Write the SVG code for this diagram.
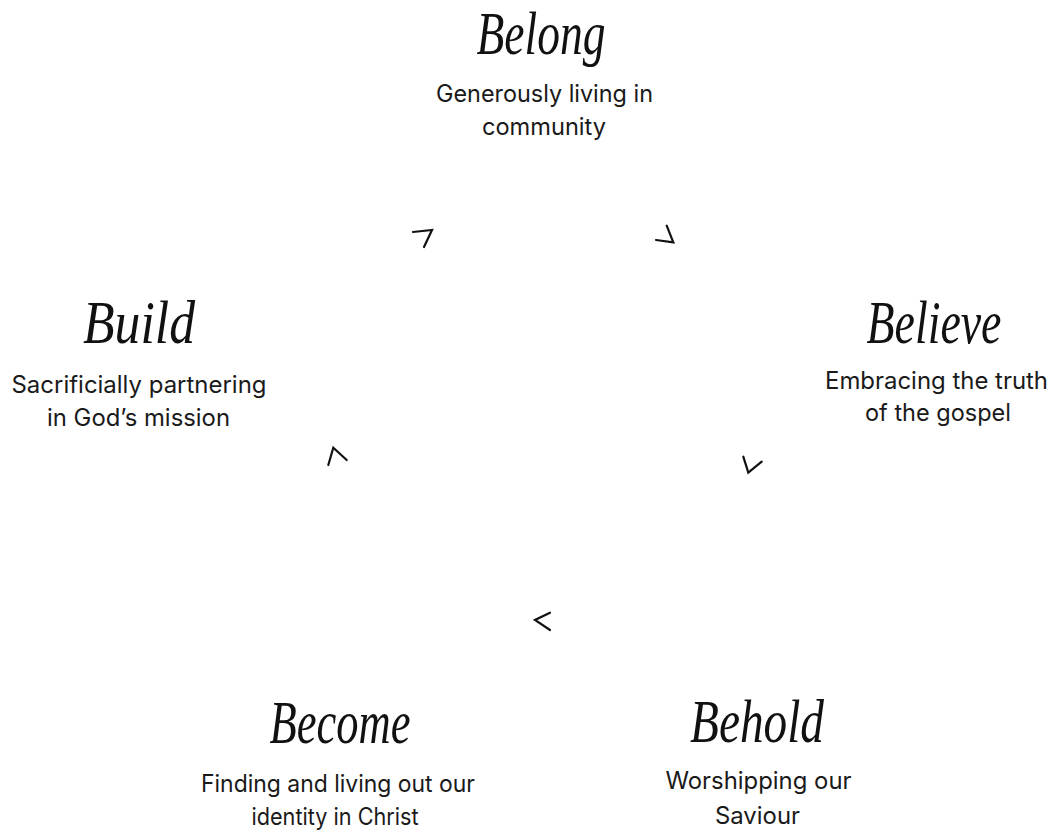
<svg xmlns="http://www.w3.org/2000/svg" width="1056" height="832" viewBox="0 0 1056 832">
<style>
.title{font-family:"Liberation Serif","Times New Roman",serif;font-style:italic;font-size:61px;fill:#111;text-anchor:middle}
.sub{font-family:Inter,"Liberation Sans",Arial,sans-serif;font-size:24px;fill:#1a1a1a;text-anchor:middle}
.chev{fill:none;stroke:#111;stroke-width:2.2;stroke-linecap:round;stroke-linejoin:miter}
</style>
<rect width="1056" height="832" fill="#fff"/>
<g id="belong">
<text class="title" x="541" y="54" textLength="129" lengthAdjust="spacingAndGlyphs">Belong</text>
<text class="sub" x="544.5" y="101.5" textLength="217" lengthAdjust="spacingAndGlyphs">Generously living in</text>
<text class="sub" x="544" y="134.5" textLength="124" lengthAdjust="spacingAndGlyphs">community</text>
</g>
<g id="believe">
<text class="title" x="934" y="343" textLength="135" lengthAdjust="spacingAndGlyphs">Believe</text>
<text class="sub" x="936.5" y="389" textLength="223" lengthAdjust="spacingAndGlyphs">Embracing the truth</text>
<text class="sub" x="938" y="421" textLength="146" lengthAdjust="spacingAndGlyphs">of the gospel</text>
</g>
<g id="behold">
<text class="title" x="757" y="742" textLength="134" lengthAdjust="spacingAndGlyphs">Behold</text>
<text class="sub" x="758.5" y="789" textLength="186" lengthAdjust="spacingAndGlyphs">Worshipping our</text>
<text class="sub" x="757.5" y="824" textLength="85" lengthAdjust="spacingAndGlyphs">Saviour</text>
</g>
<g id="become">
<text class="title" x="340" y="743" textLength="141" lengthAdjust="spacingAndGlyphs">Become</text>
<text class="sub" x="338" y="792" textLength="274" lengthAdjust="spacingAndGlyphs">Finding and living out our</text>
<text class="sub" x="335" y="825" textLength="167" lengthAdjust="spacingAndGlyphs">identity in Christ</text>
</g>
<g id="build">
<text class="title" x="139" y="343" textLength="112" lengthAdjust="spacingAndGlyphs">Build</text>
<text class="sub" x="139" y="393" textLength="255" lengthAdjust="spacingAndGlyphs">Sacrificially partnering</text>
<text class="sub" x="138.5" y="426" textLength="183" lengthAdjust="spacingAndGlyphs">in God’s mission</text>
</g>
<g id="connectors">
<path class="chev" d="M413,232 L432,230 L424,247"/>
<path class="chev" d="M666.7,225.7 L673.3,242.3 L656,240"/>
<path class="chev" d="M743.3,456.7 L748.3,472.7 L761.7,461.7"/>
<path class="chev" d="M550,612.7 L535,620 L550,630"/>
<path class="chev" d="M328.3,465 L333.3,447.7 L346.7,460"/>
</g>
</svg>
